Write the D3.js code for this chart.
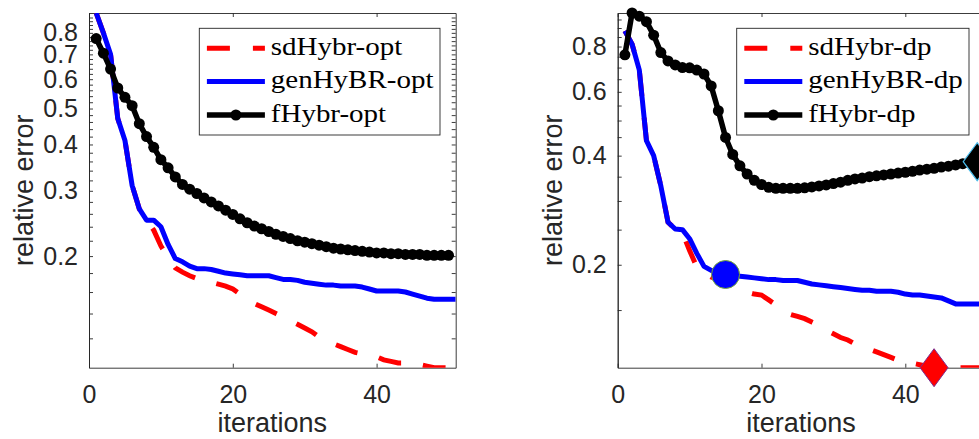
<!DOCTYPE html>
<html>
<head>
<meta charset="utf-8">
<script src="https://cdn.jsdelivr.net/npm/d3@7"></script>
<style>
  body { margin: 0; background: #fff; }
  svg { display: block; }
</style>
</head>
<body>
<div id="wrapper"></div>
<script>
// iterations 1..51 (fHybr curves stop at 50)
const iterations = d3.range(1, 52)

// left panel: "opt" parameter choice
const sdHybrOpt = [0.905, 0.80, 0.70, 0.47, 0.41, 0.31, 0.268, 0.25, 0.235, 0.213,
  0.198, 0.186, 0.181, 0.177, 0.174, 0.172, 0.170, 0.168, 0.166, 0.163,
  0.158, 0.153, 0.149, 0.146, 0.143, 0.140, 0.137, 0.134, 0.131, 0.128,
  0.125, 0.121, 0.118, 0.116, 0.114, 0.112, 0.110, 0.109, 0.108, 0.107,
  0.105, 0.104, 0.103, 0.103, 0.102, 0.102, 0.101, 0.100, 0.100, 0.100, 0.100]
const genHyBROpt = [0.905, 0.80, 0.70, 0.47, 0.41, 0.31, 0.268, 0.25, 0.25, 0.24,
  0.215, 0.197, 0.193, 0.188, 0.185, 0.185, 0.184, 0.182, 0.180, 0.179,
  0.178, 0.177, 0.177, 0.177, 0.177, 0.175, 0.173, 0.173, 0.172, 0.170,
  0.169, 0.168, 0.167, 0.167, 0.166, 0.166, 0.166, 0.165, 0.163, 0.161,
  0.161, 0.161, 0.161, 0.160, 0.158, 0.156, 0.154, 0.153, 0.153, 0.153, 0.153]
const fHybrOpt = [0.772, 0.705, 0.639, 0.568, 0.536, 0.509, 0.455, 0.42, 0.393, 0.364,
  0.346, 0.327, 0.312, 0.303, 0.295, 0.287, 0.280, 0.273, 0.266, 0.259,
  0.252, 0.246, 0.241, 0.237, 0.233, 0.229, 0.226, 0.223, 0.220, 0.218,
  0.216, 0.214, 0.212, 0.210, 0.209, 0.208, 0.207, 0.206, 0.205, 0.204,
  0.204, 0.203, 0.203, 0.202, 0.202, 0.202, 0.201, 0.201, 0.201, 0.201]

// right panel: discrepancy principle
const sdHybrDp = [0.884, 0.812, 0.69, 0.44, 0.40, 0.33, 0.262, 0.251, 0.245, 0.219,
  0.197, 0.190, 0.185, 0.182, 0.180, 0.175, 0.170, 0.168, 0.166, 0.165,
  0.160, 0.155, 0.150, 0.146, 0.144, 0.142, 0.139, 0.136, 0.132, 0.129,
  0.126, 0.124, 0.121, 0.119, 0.117, 0.115, 0.113, 0.111, 0.109, 0.108,
  0.107, 0.106, 0.105, 0.104, 0.104, 0.104, 0.104, 0.104, 0.104, 0.104, 0.104]
const genHyBRDp = [0.884, 0.812, 0.69, 0.44, 0.40, 0.33, 0.262, 0.251, 0.25, 0.236,
  0.215, 0.198, 0.193, 0.190, 0.188, 0.187, 0.186, 0.185, 0.184, 0.183,
  0.182, 0.182, 0.181, 0.181, 0.181, 0.179, 0.177, 0.176, 0.175, 0.174,
  0.173, 0.172, 0.171, 0.170, 0.170, 0.169, 0.169, 0.169, 0.168, 0.166,
  0.165, 0.165, 0.164, 0.163, 0.162, 0.159, 0.156, 0.156, 0.156, 0.156, 0.156]
const fHybrDp = [0.759, 0.99, 0.97, 0.937, 0.86, 0.77, 0.73, 0.712, 0.70, 0.699,
  0.689, 0.672, 0.623, 0.532, 0.449, 0.403, 0.375, 0.356, 0.342, 0.333,
  0.327, 0.325, 0.325, 0.325, 0.325, 0.326, 0.328, 0.330, 0.332, 0.335,
  0.338, 0.342, 0.345, 0.347, 0.350, 0.352, 0.354, 0.356, 0.358, 0.360,
  0.362, 0.365, 0.367, 0.369, 0.372, 0.374, 0.377, 0.380, 0.382, 0.385]

// iterations where the chosen stopping point is marked (right panel)
const stopSdHybrDp = 44
const stopGenHyBRDp = 15
const stopFHybrDp = 50

const xDomain = [0, 51]
const xTicks = [0, 20, 40]
const yDomainOpt = [0.1, 0.905]
const yDomainDp = [0.104, 0.99]
const yTicksOpt = [0.2, 0.3, 0.4, 0.5, 0.6, 0.7, 0.8]
const yMinorOpt = d3.range(12, 90, 2).map(d => d / 100).filter(d => !yTicksOpt.some(t => Math.abs(t - d) < 1e-9))
const yTicksDp = [0.2, 0.4, 0.6, 0.8]
const yMinorDp = d3.range(15, 100, 5).map(d => d / 100).filter(d => !yTicksDp.some(t => Math.abs(t - d) < 1e-9))

const labelsOpt = ["sdHybr-opt", "genHyBR-opt", "fHybr-opt"]
const labelsDp = ["sdHybr-dp", "genHyBR-dp", "fHybr-dp"]

let dimensions = {
  width: 979,
  height: 439,
  top: 13,
  bottom: 367.7,
  plotWidth: 366.7,
}

const axisColor = "#262626"
const tickFont = "'Liberation Sans', Arial, Helvetica, sans-serif"
const legendFont = "'Liberation Serif', 'Times New Roman', serif"

const wrapper = d3.select("#wrapper")
  .append("svg")
  .attr("width", dimensions.width)
  .attr("height", dimensions.height)

function drawPanel(p) {
  const g = wrapper.append("g")
  const x0 = p.left
  const x1 = p.left + dimensions.plotWidth

  const xScale = d3.scaleLinear()
    .domain(xDomain)
    .range([x0, x1])

  const yScale = d3.scaleLog()
    .domain(p.yDomain)
    .range([dimensions.bottom, dimensions.top])

  // clip for the curves
  g.append("clipPath")
    .attr("id", "clip-" + p.id)
    .append("rect")
    .attr("x", x0)
    .attr("y", dimensions.top)
    .attr("width", x1 - x0)
    .attr("height", dimensions.bottom - dimensions.top)

  const styleAxis = sel => {
    sel.select(".domain").attr("stroke", axisColor).attr("stroke-width", 0.9)
    sel.selectAll(".tick line").attr("stroke", axisColor).attr("stroke-width", 0.9)
    sel.selectAll("text")
      .attr("fill", axisColor)
      .style("font-family", tickFont)
      .style("font-size", "25px")
  }

  // bottom axis
  g.append("g")
    .attr("transform", `translate(0,${dimensions.bottom})`)
    .call(d3.axisBottom(xScale).tickValues(xTicks).tickSize(-4).tickSizeOuter(0).tickPadding(18))
    .call(styleAxis)

  // top axis (ticks only)
  g.append("g")
    .attr("transform", `translate(0,${dimensions.top})`)
    .call(d3.axisTop(xScale).tickValues(xTicks).tickSize(-4).tickSizeOuter(0).tickFormat(""))
    .call(styleAxis)

  // left axis, major + minor
  g.append("g")
    .attr("transform", `translate(${x0},0)`)
    .call(d3.axisLeft(yScale).tickValues(p.yTicks).tickSize(-4).tickSizeOuter(0)
      .tickPadding(11).tickFormat(d3.format(".1f")))
    .call(styleAxis)
  g.append("g")
    .attr("transform", `translate(${x0},0)`)
    .call(d3.axisLeft(yScale).tickValues(p.yMinor).tickSize(-4).tickSizeOuter(0).tickFormat(""))
    .call(styleAxis)

  // right axis mirrored ticks
  g.append("g")
    .attr("transform", `translate(${x1},0)`)
    .call(d3.axisRight(yScale).tickValues(p.yTicks.concat(p.yMinor)).tickSize(-4).tickSizeOuter(0).tickFormat(""))
    .call(styleAxis)

  // axis titles
  g.append("text")
    .attr("x", (x0 + x1) / 2)
    .attr("y", 432)
    .attr("text-anchor", "middle")
    .attr("fill", axisColor)
    .style("font-family", tickFont)
    .style("font-size", "27px")
    .text("iterations")

  g.append("text")
    .attr("transform", `translate(${x0 - 56},${(dimensions.top + dimensions.bottom) / 2}) rotate(-90)`)
    .attr("text-anchor", "middle")
    .attr("fill", axisColor)
    .style("font-family", tickFont)
    .style("font-size", "27px")
    .text("relative error")

  const lineGenerator = d3.line()
    .x(d => xScale(d[0]))
    .y(d => yScale(d[1]))

  const curves = g.append("g").attr("clip-path", `url(#clip-${p.id})`)

  const sd = d3.zip(iterations, p.sd)
  const gen = d3.zip(iterations, p.gen)
  const fh = d3.zip(iterations.slice(0, p.fh.length), p.fh)

  curves.append("path")
    .attr("d", lineGenerator(sd))
    .attr("fill", "none")
    .attr("stroke", "#ff0000")
    .attr("stroke-width", 5)
    .attr("stroke-dasharray", "23,22")

  curves.append("path")
    .attr("d", lineGenerator(gen))
    .attr("fill", "none")
    .attr("stroke", "#0000ff")
    .attr("stroke-width", 5)
    .attr("stroke-linejoin", "round")

  curves.append("path")
    .attr("d", lineGenerator(fh))
    .attr("fill", "none")
    .attr("stroke", "#000")
    .attr("stroke-width", 5.5)
    .attr("stroke-linejoin", "round")

  g.append("g")
    .selectAll("circle")
    .data(fh)
    .join("circle")
    .attr("cx", d => xScale(d[0]))
    .attr("cy", d => yScale(d[1]))
    .attr("r", 5.5)
    .attr("fill", "#000")

  // stopping markers
  if (p.stops) {
    const diamond = (cx, cy, hw, hh) =>
      `M${cx},${cy - hh}L${cx + hw},${cy}L${cx},${cy + hh}L${cx - hw},${cy}Z`
    const s = p.stops
    g.append("path")
      .attr("d", diamond(xScale(s.sd), yScale(p.sd[s.sd - 1]), 14, 19))
      .attr("fill", "#ff0000")
      .attr("stroke", "#7e2f8e")
      .attr("stroke-width", 1)
    g.append("circle")
      .attr("cx", xScale(s.gen))
      .attr("cy", yScale(p.gen[s.gen - 1]))
      .attr("r", 14)
      .attr("fill", "#0000ff")
      .attr("stroke", "#77ac30")
      .attr("stroke-width", 1)
    g.append("path")
      .attr("d", diamond(xScale(s.fh), yScale(p.fh[s.fh - 1]), 14, 19))
      .attr("fill", "#000")
      .attr("stroke", "#4dbeee")
      .attr("stroke-width", 1.2)
  }

  // legend
  const lg = g.append("g")
  lg.append("rect")
    .attr("x", p.legendX)
    .attr("y", 28.3)
    .attr("width", p.legendW)
    .attr("height", 106.7)
    .attr("fill", "#fff")
    .attr("stroke", axisColor)
    .attr("stroke-width", 0.9)

  const rows = [48.3, 81.5, 115]
  const sx0 = p.legendX + 7.6
  const sx1 = p.legendX + 65.6
  lg.append("line")
    .attr("x1", sx0).attr("x2", sx1).attr("y1", rows[0]).attr("y2", rows[0])
    .attr("stroke", "#ff0000").attr("stroke-width", 5).attr("stroke-dasharray", "23,23")
  lg.append("line")
    .attr("x1", sx0).attr("x2", sx1).attr("y1", rows[1]).attr("y2", rows[1])
    .attr("stroke", "#0000ff").attr("stroke-width", 5)
  lg.append("line")
    .attr("x1", sx0).attr("x2", sx1).attr("y1", rows[2]).attr("y2", rows[2])
    .attr("stroke", "#000").attr("stroke-width", 5.5)
  lg.append("circle")
    .attr("cx", (sx0 + sx1) / 2).attr("cy", rows[2]).attr("r", 5.5).attr("fill", "#000")

  p.labels.forEach((label, i) => {
    lg.append("text")
      .attr("transform", `translate(${p.legendX + 71.5},${rows[i] + 6.5}) scale(1.16,1)`)
      .attr("fill", "#000")
      .style("font-family", legendFont)
      .style("font-size", "25px")
      .text(label)
  })
}

drawPanel({
  id: "opt",
  left: 89,
  yDomain: yDomainOpt,
  yTicks: yTicksOpt,
  yMinor: yMinorOpt,
  sd: sdHybrOpt,
  gen: genHyBROpt,
  fh: fHybrOpt,
  labels: labelsOpt,
  legendX: 199.3,
  legendW: 240.7,
})

drawPanel({
  id: "dp",
  left: 617.7,
  yDomain: yDomainDp,
  yTicks: yTicksDp,
  yMinor: yMinorDp,
  sd: sdHybrDp,
  gen: genHyBRDp,
  fh: fHybrDp,
  labels: labelsDp,
  legendX: 736.7,
  legendW: 232.3,
  stops: { sd: stopSdHybrDp, gen: stopGenHyBRDp, fh: stopFHybrDp },
})
</script>
</body>
</html>
